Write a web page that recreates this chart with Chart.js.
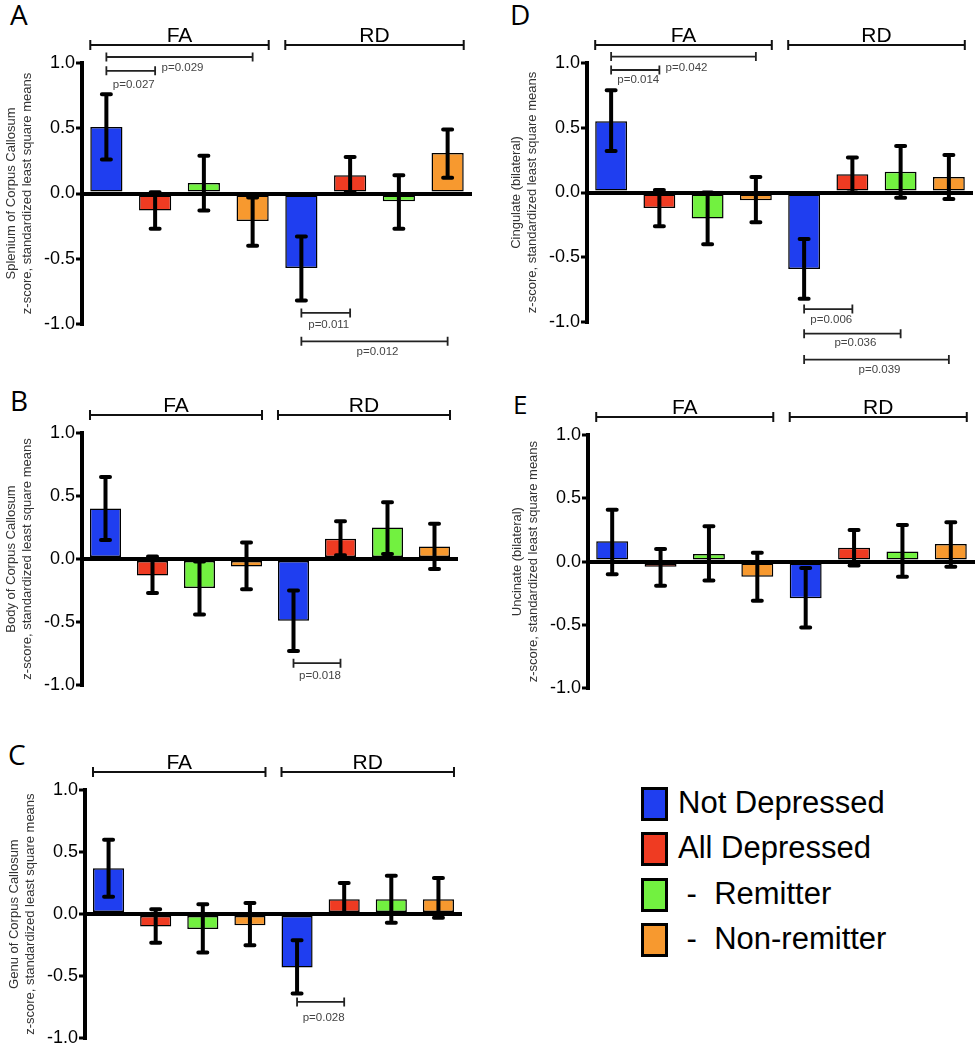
<!DOCTYPE html>
<html lang="en">
<head>
    <meta charset="UTF-8">
    <title>FA / RD z-scores by group</title>
    <script src="https://cdn.jsdelivr.net/npm/chart.js"></script>
    <style>
        body { margin: 0; background: #fff; width: 976px; height: 1050px; position: relative; overflow: hidden; }
        canvas { position: absolute; }
        .letter { position: absolute; font-family: "Open Sans", sans-serif; font-size: 28px; line-height: 28px; color: #000; }
        .legend { position: absolute; left: 641px; top: 787px; font-family: "Liberation Sans", Arial, sans-serif; font-size: 31px; color: #000; }
        .legend .item { position: relative; height: 45.3px; }
        .legend .box { position: absolute; left: 0; top: 0; width: 21px; height: 28px; border: 3px solid #000; }
        .legend .txt { position: absolute; left: 37px; top: -1px; white-space: pre; line-height: 34px; }
    </style>
</head>
<body>
    <div class="letter" style="left:10px; top:0px;">A</div>
    <div class="letter" style="left:10px; top:386px;">B</div>
    <div class="letter" style="left:8px; top:740px;">C</div>
    <div class="letter" style="left:510px; top:0px;">D</div>
    <div class="letter" style="left:513px; top:390px; font-size:26px;">E</div>

    <canvas id="chartA" width="480" height="370" style="left:0; top:0;"></canvas>
    <canvas id="chartB" width="480" height="320" style="left:0; top:380px;"></canvas>
    <canvas id="chartC" width="480" height="350" style="left:0; top:700px;"></canvas>
    <canvas id="chartE" width="486" height="320" style="left:490px; top:380px;"></canvas>
    <canvas id="chartD" width="486" height="386" style="left:490px; top:0;"></canvas>

    <div class="legend" id="legend"></div>

    <script>
        // ---- data ----
        const groups = ['FA', 'RD'];
        const seriesNames = ['Not Depressed', 'All Depressed', ' -  Remitter', ' -  Non-remitter'];
        const categories = ['FA Not Depressed', 'FA All Depressed', 'FA Remitter', 'FA Non-remitter',
                            'RD Not Depressed', 'RD All Depressed', 'RD Remitter', 'RD Non-remitter'];
        const yTicks = [-1.0, -0.5, 0.0, 0.5, 1.0];

        // A: Splenium of Corpus Callosum
        const meansA = [0.51, -0.13, 0.08, -0.21, -0.57, 0.14, -0.06, 0.31];
        const lowA   = [0.26, -0.27, -0.13, -0.40, -0.82, 0.01, -0.27, 0.12];
        const highA  = [0.76, 0.01, 0.29, -0.03, -0.33, 0.28, 0.14, 0.49];
        const pairsA = [[0, 1], [0, 3], [4, 5], [4, 7]];
        const pLabelsA = ['p=0.027', 'p=0.029', 'p=0.011', 'p=0.012'];

        // B: Body of Corpus Callosum
        const meansB = [0.40, -0.13, -0.23, -0.06, -0.49, 0.16, 0.25, 0.10];
        const lowB   = [0.15, -0.27, -0.44, -0.24, -0.73, 0.03, 0.04, -0.08];
        const highB  = [0.65, 0.02, -0.02, 0.13, -0.25, 0.30, 0.45, 0.28];
        const pairsB = [[4, 5]];
        const pLabelsB = ['p=0.018'];

        // C: Genu of Corpus Callosum
        const meansC = [0.37, -0.10, -0.12, -0.09, -0.43, 0.12, 0.12, 0.12];
        const lowC   = [0.14, -0.23, -0.31, -0.25, -0.64, 0.00, -0.07, -0.03];
        const highC  = [0.60, 0.04, 0.08, 0.09, -0.21, 0.25, 0.31, 0.29];
        const pairsC = [[4, 5]];
        const pLabelsC = ['p=0.028'];

        // D: Cingulate (bilateral)
        const meansD = [0.55, -0.12, -0.20, -0.06, -0.59, 0.14, 0.16, 0.12];
        const lowD   = [0.32, -0.26, -0.40, -0.23, -0.82, 0.00, -0.04, -0.05];
        const highD  = [0.79, 0.02, 0.00, 0.12, -0.36, 0.27, 0.36, 0.29];
        const pairsD = [[0, 1], [0, 3], [4, 5], [4, 6], [4, 7]];
        const pLabelsD = ['p=0.014', 'p=0.042', 'p=0.006', 'p=0.036', 'p=0.039'];

        // E: Uncinate (bilateral)
        const meansE = [0.16, -0.04, 0.06, -0.12, -0.29, 0.11, 0.08, 0.14];
        const lowE   = [-0.10, -0.19, -0.15, -0.31, -0.52, -0.03, -0.12, -0.04];
        const highE  = [0.41, 0.10, 0.28, 0.07, -0.05, 0.25, 0.29, 0.31];
        const pairsE = [];
        const pLabelsE = [];

        // ---- styling / placement ----
        const colors = ['#1f3ef0', '#ef3b22', '#72f140', '#f7992f'];
        const barColors = categories.map((c, i) => colors[i % 4]);
        const yTitleSub = 'z-score, standardized least square means';

        // bracket heights (line level, text level) in axis units
        const levelsA = [[0.94, 0.83], [1.046, 0.96], [-0.915, -1.008], [-1.133, -1.21]];
        const levelsB = [[-0.827, -0.925]];
        const levelsC = [[-0.708, -0.835]];
        const levelsD = [[0.946, 0.87], [1.05, 0.964], [-0.90, -0.98], [-1.09, -1.16], [-1.29, -1.37]];
        const levelsE = [];

        const panels = [
            { id: 'chartA', title: 'Splenium of Corpus Callosum', means: meansA, low: lowA, high: highA,
              pairs: pairsA, labels: pLabelsA, levels: levelsA, pad: { left: 0, right: 8, top: 63, bottom: 46 } },
            { id: 'chartB', title: 'Body of Corpus Callosum', means: meansB, low: lowB, high: highB,
              pairs: pairsB, labels: pLabelsB, levels: levelsB, pad: { left: 0, right: 22, top: 53, bottom: 15 } },
            { id: 'chartC', title: 'Genu of Corpus Callosum', means: meansC, low: lowC, high: highC,
              pairs: pairsC, labels: pLabelsC, levels: levelsC, pad: { left: 3, right: 18, top: 90, bottom: 8 } },
            { id: 'chartD', title: 'Cingulate (bilateral)', means: meansD, low: lowD, high: highD,
              pairs: pairsD, labels: pLabelsD, levels: levelsD, pad: { left: 15, right: 3, top: 63, bottom: 64 } },
            { id: 'chartE', title: 'Uncinate (bilateral)', means: meansE, low: lowE, high: highE,
              pairs: pairsE, labels: pLabelsE, levels: levelsE, pad: { left: 16, right: 1, top: 55, bottom: 8 } }
        ];

        // error bars, group brackets and significance brackets
        const annotations = {
            id: 'annotations',
            afterDatasetsDraw(chart, args, opts) {
                const p = opts.panel;
                const meta = chart.getDatasetMeta(0);
                const y = chart.scales.y;
                const ctx = chart.ctx;
                ctx.save();
                ctx.strokeStyle = '#000';
                meta.data.forEach((bar, i) => {
                    const yl = y.getPixelForValue(p.low[i]);
                    const yh = y.getPixelForValue(p.high[i]);
                    ctx.lineWidth = 4;
                    ctx.lineCap = 'butt';
                    ctx.beginPath();
                    ctx.moveTo(bar.x, yl);
                    ctx.lineTo(bar.x, yh);
                    ctx.stroke();
                    ctx.lineCap = 'round';
                    ctx.beginPath();
                    ctx.moveTo(bar.x - 4.5, yl); ctx.lineTo(bar.x + 4.5, yl);
                    ctx.moveTo(bar.x - 4.5, yh); ctx.lineTo(bar.x + 4.5, yh);
                    ctx.stroke();
                });
                ctx.restore();
            },
            afterDraw(chart, args, opts) {
                const p = opts.panel;
                const meta = chart.getDatasetMeta(0);
                const y = chart.scales.y;
                const ctx = chart.ctx;
                const top = chart.chartArea.top - 18;
                ctx.save();
                // FA / RD brackets
                groups.forEach((g, gi) => {
                    const b0 = meta.data[gi * 4], b1 = meta.data[gi * 4 + 3];
                    const x0 = b0.x - b0.width / 2, x1 = b1.x + b1.width / 2;
                    ctx.strokeStyle = '#111';
                    ctx.lineWidth = 2;
                    ctx.beginPath();
                    ctx.moveTo(x0, top); ctx.lineTo(x1, top);
                    ctx.moveTo(x0, top - 5); ctx.lineTo(x0, top + 5);
                    ctx.moveTo(x1, top - 5); ctx.lineTo(x1, top + 5);
                    ctx.stroke();
                    ctx.fillStyle = '#000';
                    ctx.font = '21px "Liberation Sans", Arial, sans-serif';
                    ctx.textAlign = 'center';
                    ctx.textBaseline = 'alphabetic';
                    ctx.fillText(g, (x0 + x1) / 2, top - 3);
                });
                // significance brackets
                p.pairs.forEach((pr, k) => {
                    const xa = meta.data[pr[0]].x, xb = meta.data[pr[1]].x;
                    const yLine = y.getPixelForValue(p.levels[k][0]);
                    const yText = y.getPixelForValue(p.levels[k][1]);
                    ctx.strokeStyle = '#222';
                    ctx.lineWidth = 1.8;
                    ctx.beginPath();
                    ctx.moveTo(xa, yLine); ctx.lineTo(xb, yLine);
                    ctx.moveTo(xa, yLine - 4.5); ctx.lineTo(xa, yLine + 4.5);
                    ctx.moveTo(xb, yLine - 4.5); ctx.lineTo(xb, yLine + 4.5);
                    ctx.stroke();
                    ctx.fillStyle = '#444';
                    ctx.font = '11.5px "Liberation Sans", Arial, sans-serif';
                    ctx.textAlign = 'center';
                    ctx.textBaseline = 'middle';
                    ctx.fillText(p.labels[k], (xa + xb) / 2 + 3, yText);
                });
                ctx.restore();
            }
        };

        panels.forEach(p => {
            new Chart(document.getElementById(p.id), {
                type: 'bar',
                data: {
                    labels: categories,
                    datasets: [{
                        data: p.means,
                        backgroundColor: barColors,
                        borderColor: '#000',
                        borderWidth: 1.5,
                        borderSkipped: false,
                        barPercentage: 0.66,
                        categoryPercentage: 1.0
                    }]
                },
                options: {
                    responsive: false,
                    animation: false,
                    devicePixelRatio: 1,
                    layout: { padding: p.pad },
                    plugins: {
                        legend: { display: false },
                        tooltip: { enabled: false },
                        annotations: { panel: p }
                    },
                    scales: {
                        x: { display: false },
                        y: {
                            min: -1, max: 1,
                            afterBuildTicks: s => { s.ticks = yTicks.map(v => ({ value: v })); },
                            afterFit: s => { s.width = 82; },
                            border: { display: true, width: 4, color: '#000' },
                            grid: {
                                color: c => (c.tick && c.tick.value === 0) ? '#000' : 'rgba(0,0,0,0)',
                                lineWidth: 4,
                                drawTicks: true,
                                tickLength: 6,
                                tickColor: '#000',
                                tickWidth: 3
                            },
                            ticks: {
                                color: '#000',
                                padding: 1,
                                font: { family: '"Liberation Sans", Arial, sans-serif', size: 18 },
                                callback: v => Number(v).toFixed(1)
                            },
                            title: {
                                display: true,
                                text: [p.title, yTitleSub],
                                color: '#333',
                                padding: { top: 3, bottom: 0 },
                                font: { family: '"Liberation Sans", Arial, sans-serif', size: 13, lineHeight: 1.25 }
                            }
                        }
                    }
                },
                plugins: [annotations]
            });
        });

        // legend
        const legend = document.getElementById('legend');
        seriesNames.forEach((name, i) => {
            const item = document.createElement('div');
            item.className = 'item';
            item.innerHTML = `<div class="box" style="background:${colors[i]}"></div><div class="txt">${name}</div>`;
            legend.appendChild(item);
        });
    </script>
</body>
</html>
